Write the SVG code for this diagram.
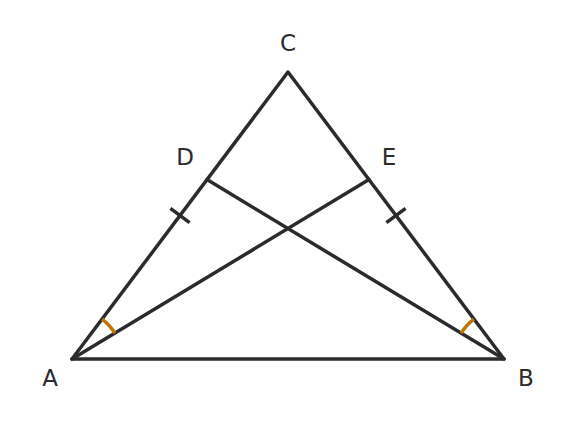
<svg xmlns="http://www.w3.org/2000/svg" width="576" height="432" viewBox="0 0 576 432">
<style>
.ln{stroke:#2b2b2b;stroke-width:3.5;fill:none;stroke-linecap:round;stroke-linejoin:round}
.tk{stroke:#2b2b2b;stroke-width:3.5;fill:none}
.ang{stroke:#c27400;stroke-width:3.5;fill:none}
.lb{font-family:"DejaVu Sans",sans-serif;font-size:23px;fill:#2b2b2b;text-anchor:middle}
</style>
<rect width="576" height="432" fill="#fff"/>
<g id="connectors">
<path class="ln" d="M72,359 L504,359 L288,72 Z"/>
<line class="ln" x1="72" y1="359" x2="369" y2="179.6"/>
<line class="ln" x1="504" y1="359" x2="207" y2="179.6"/>
<line class="tk" x1="170.4" y1="208.3" x2="189.6" y2="222.7"/>
<line class="tk" x1="405.6" y1="208.3" x2="386.4" y2="222.7"/>
<path class="ang" d="M102.1,319.1 A50,50 0 0,1 114.8,333.2"/>
<path class="ang" d="M473.9,319.1 A50,50 0 0,0 461.2,333.2"/>
</g>
<g id="A"><text class="lb" x="50" y="385.5">A</text></g>
<g id="B"><text class="lb" x="526" y="385.5">B</text></g>
<g id="C"><text class="lb" x="288" y="51">C</text></g>
<g id="D"><text class="lb" x="185" y="165">D</text></g>
<g id="E"><text class="lb" x="389" y="165">E</text></g>
</svg>
